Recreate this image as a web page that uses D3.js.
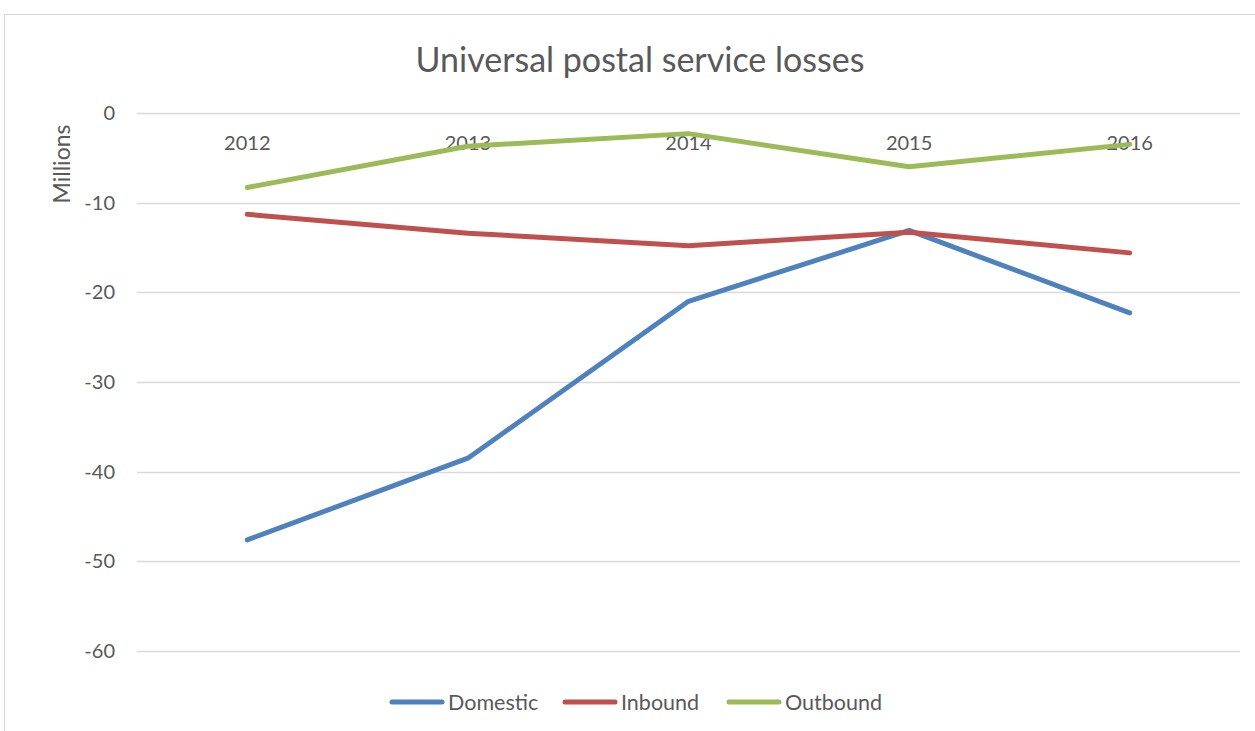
<!DOCTYPE html>
<html><head><meta charset="utf-8">
<script src="https://cdn.jsdelivr.net/npm/d3@7"></script>
<style>body{margin:0;background:#fff;} svg{display:block;}</style>
</head><body>
<script>
const years = ["2012","2013","2014","2015","2016"];
const domestic = [-47.6, -38.5, -21.0, -13.1, -22.3];
const inbound = [-11.3, -13.4, -14.8, -13.3, -15.6];
const outbound = [-8.3, -3.7, -2.3, -6.0, -3.5];
const yTicks = [0, -10, -20, -30, -40, -50, -60];
const seriesNames = ["Domestic", "Inbound", "Outbound"];
const colors = ["#4f81bd", "#c0504d", "#9bbb59"];

const W = 1255, H = 731;
const font = "Lato, 'Open Sans', sans-serif";
const svg = d3.select("body").append("svg").attr("width", W).attr("height", H);
svg.append("rect").attr("x", 4.5).attr("y", 14.5).attr("width", W).attr("height", H)
  .attr("fill", "#fff").attr("stroke", "#d9d9d9").attr("stroke-width", 1);

const x = d3.scaleBand().domain(years).range([137, 1240]);
const y = d3.scaleLinear().domain([-60, 0]).range([651, 113]);

// gridlines
svg.append("g").selectAll("line").data(yTicks).join("line")
  .attr("x1", 137).attr("x2", 1240)
  .attr("y1", d => Math.round(y(d)) + 0.5).attr("y2", d => Math.round(y(d)) + 0.5)
  .attr("stroke", "#d9d9d9").attr("stroke-width", 1.5);

// y axis labels
const yAxis = d3.axisLeft(y).tickValues(yTicks).tickSize(0).tickPadding(22).tickFormat(d3.format("d"));
const ya = svg.append("g").attr("transform", "translate(137,0)").call(yAxis);
ya.select(".domain").remove();
ya.selectAll("text").attr("font-family", font).attr("font-size", 20).attr("fill", "#595959").attr("dy", "0.32em").text(d => d === 0 ? "0" : "-" + Math.abs(d));

// x axis labels (at top, near 0 line)
const xAxis = d3.axisBottom(x).tickSize(0).tickPadding(0);
const xa = svg.append("g").attr("transform", "translate(0,113)").call(xAxis);
xa.select(".domain").remove();
xa.selectAll("text").attr("font-family", font).attr("font-size", 20).attr("fill", "#595959").attr("y", 23).attr("dy", "0.71em");

// Y title
svg.append("text").attr("transform", "translate(70,164) rotate(-90)").attr("text-anchor", "middle")
  .attr("font-family", font).attr("font-size", 23).attr("fill", "#595959").text("Millions");

// Title
svg.append("text").attr("x", 640).attr("y", 72).attr("text-anchor", "middle")
  .attr("font-family", font).attr("font-size", 34).attr("fill", "#595959").text("Universal postal service losses");

const line = d3.line().x((d, i) => x(years[i]) + x.bandwidth() / 2).y(d => y(d));
const data = [domestic, inbound, outbound];
data.forEach((s, i) => {
  svg.append("path").attr("d", line(s)).attr("fill", "none").attr("stroke", colors[i])
    .attr("stroke-width", 5).attr("stroke-linecap", "round").attr("stroke-linejoin", "round");
});

// legend
const legX = [392, 565, 729];
seriesNames.forEach((n, i) => {
  const g = svg.append("g");
  g.append("line").attr("x1", legX[i]).attr("x2", legX[i] + 50).attr("y1", 702).attr("y2", 702)
    .attr("stroke", colors[i]).attr("stroke-width", 5).attr("stroke-linecap", "round");
  g.append("text").attr("x", legX[i] + 56).attr("y", 702).attr("dy", "0.35em")
    .attr("font-family", font).attr("font-size", 21.5).attr("fill", "#595959").text(n);
});
</script>
</body></html>
